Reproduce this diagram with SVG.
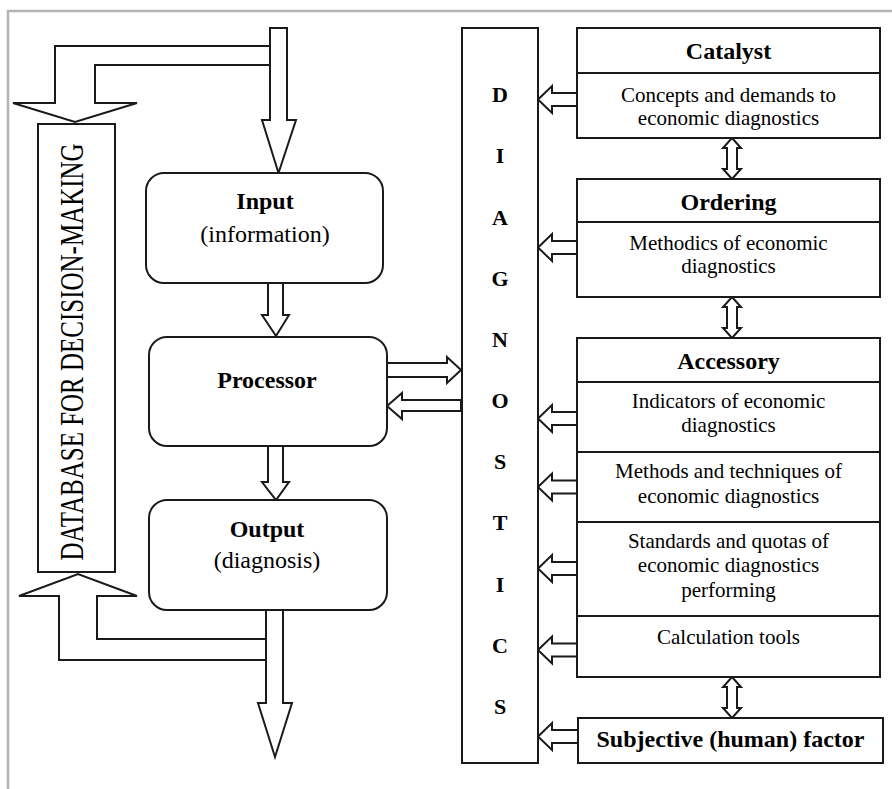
<svg xmlns="http://www.w3.org/2000/svg" width="892" height="789" viewBox="0 0 892 789">
<style>
.s{fill:#fff;stroke:#1a1a1a;stroke-width:2;stroke-linejoin:miter}
.ln{fill:none;stroke:#1a1a1a;stroke-width:2}
.t{font-family:"Liberation Serif","Times New Roman",serif;fill:#000;text-anchor:middle}
.r{font-size:21px}
.m{font-size:24px}
.b{font-weight:bold;font-size:24px}
.L{font-weight:bold;font-size:22px}
</style>
<rect width="892" height="789" fill="#fff"/>
<path d="M8,789 V11 H892" fill="none" stroke="#b3b3b3" stroke-width="2.5"/>

<g id="connectors">
  <path class="s" d="M270,46 H55 V103 H13 L75,122 L137,103 H95 V65 H270 Z"/>
  <polygon class="s" points="270,28 287,28 287,120 296,120 278.5,173 262,120 270,120"/>
  <polygon class="s" points="268,283 283,283 283,315 289,315 276,336 262,315 268,315"/>
  <polygon class="s" points="268,446 283,446 283,482 289,482 276,500 262,482 268,482"/>
  <path class="s" d="M266,639 H97 V596 H137 L78,574 L19,596 H59 V660 H266 Z"/>
  <polygon class="s" points="266,610 283,610 283,703 292,703 275,757 258,703 266,703"/>
  <polygon class="s" points="387,363 447,363 447,357 461,370 447,383 447,377 387,377"/>
  <polygon class="s" points="387,406 402,393 402,400 461,400 461,411 402,411 402,419"/>
  <polygon class="s" points="538,99.5 552,86 552,93 577,93 577,106 552,106 552,113"/>
  <polygon class="s" points="538,247.5 552,234 552,241 577,241 577,254 552,254 552,261"/>
  <polygon class="s" points="538,418.5 552,405 552,412 577,412 577,425 552,425 552,432"/>
  <polygon class="s" points="538,487 552,473.5 552,480.5 577,480.5 577,493.5 552,493.5 552,500.5"/>
  <polygon class="s" points="538,568.5 552,555 552,562 577,562 577,575 552,575 552,582"/>
  <polygon class="s" points="538,650 552,636.5 552,643.5 577,643.5 577,656.5 552,656.5 552,663.5"/>
  <polygon class="s" points="538,736.5 552,723 552,730 578,730 578,743 552,743 552,750"/>
  <polygon class="s" points="732,138 741,148 737,148 737,169 741,169 732,179 723,169 727,169 727,148 723,148"/>
  <polygon class="s" points="732,297 741,307 737,307 737,328 741,328 732,338 723,328 727,328 727,307 723,307"/>
  <polygon class="s" points="732,677 741,687 737,687 737,708 741,708 732,718 723,708 727,708 727,687 723,687"/>
</g>

<g id="database">
  <rect class="s" x="38" y="124" width="77" height="448"/>
  <text class="t" transform="translate(83,352) rotate(-90) scale(0.735,1)" font-size="34">DATABASE FOR DECISION-MAKING</text>
</g>

<g id="input">
  <rect class="s" x="146" y="173" width="237" height="110" rx="18"/>
  <text class="t b" x="265" y="209">Input</text>
  <text class="t m" x="265" y="242">(information)</text>
</g>

<g id="processor">
  <rect class="s" x="149" y="337" width="238" height="109" rx="18"/>
  <text class="t b" x="267" y="388">Processor</text>
</g>

<g id="output">
  <rect class="s" x="149" y="500" width="238" height="110" rx="18"/>
  <text class="t b" x="267" y="537">Output</text>
  <text class="t m" x="267" y="568">(diagnosis)</text>
</g>

<g id="diagnostics">
  <rect class="s" x="462" y="28" width="76" height="735"/>
  <text class="t L" x="500" y="102">D</text>
  <text class="t L" x="500" y="163">I</text>
  <text class="t L" x="500" y="225">A</text>
  <text class="t L" x="500" y="286">G</text>
  <text class="t L" x="500" y="347">N</text>
  <text class="t L" x="500" y="408">O</text>
  <text class="t L" x="500" y="469">S</text>
  <text class="t L" x="500" y="530">T</text>
  <text class="t L" x="500" y="592">I</text>
  <text class="t L" x="500" y="653">C</text>
  <text class="t L" x="500" y="714">S</text>
</g>

<g id="catalyst">
  <rect class="s" x="577" y="28" width="303" height="110"/>
  <line class="ln" x1="577" y1="73" x2="880" y2="73"/>
  <text class="t b" x="728.5" y="59">Catalyst</text>
  <text class="t r" x="728.5" y="102">Concepts and demands to</text>
  <text class="t r" x="728.5" y="125">economic diagnostics</text>
</g>

<g id="ordering">
  <rect class="s" x="577" y="179" width="303" height="118"/>
  <line class="ln" x1="577" y1="222" x2="880" y2="222"/>
  <text class="t b" x="728.5" y="210">Ordering</text>
  <text class="t r" x="728.5" y="250">Methodics of economic</text>
  <text class="t r" x="728.5" y="273">diagnostics</text>
</g>

<g id="accessory">
  <rect class="s" x="577" y="338" width="303" height="339"/>
  <line class="ln" x1="577" y1="382" x2="880" y2="382"/>
  <line class="ln" x1="577" y1="452" x2="880" y2="452"/>
  <line class="ln" x1="577" y1="522" x2="880" y2="522"/>
  <line class="ln" x1="577" y1="616" x2="880" y2="616"/>
  <text class="t b" x="728.5" y="369">Accessory</text>
  <text class="t r" x="728.5" y="408">Indicators of economic</text>
  <text class="t r" x="728.5" y="432">diagnostics</text>
  <text class="t r" x="728.5" y="478">Methods and techniques of</text>
  <text class="t r" x="728.5" y="503">economic diagnostics</text>
  <text class="t r" x="728.5" y="548">Standards and quotas of</text>
  <text class="t r" x="728.5" y="572">economic diagnostics</text>
  <text class="t r" x="728.5" y="597">performing</text>
  <text class="t r" x="728.5" y="644">Calculation tools</text>
</g>

<g id="subjective">
  <rect class="s" x="578" y="718" width="305" height="45"/>
  <text class="t b" x="730.5" y="747">Subjective (human) factor</text>
</g>
</svg>
